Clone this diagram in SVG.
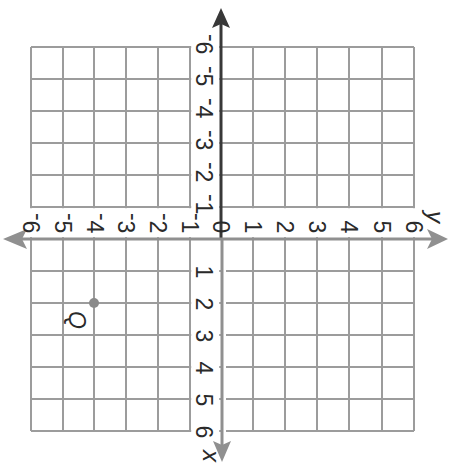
<svg xmlns="http://www.w3.org/2000/svg" width="453" height="464" viewBox="0 0 453 464">
<style>
.grid line{stroke:#9c9c9c;stroke-width:2}
.band{fill:#fff}
.lbl{font-family:"Liberation Sans",Arial,sans-serif;font-size:23px;fill:#2a2a2a}
.it{font-family:"Liberation Sans",Arial,sans-serif;font-size:24px;font-style:italic;fill:#2a2a2a}
</style>
<rect width="453" height="464" fill="#fff"/>
<g id="grid" class="grid">
<line x1="31" y1="47" x2="31" y2="431"/><line x1="63" y1="47" x2="63" y2="431"/><line x1="94" y1="47" x2="94" y2="431"/><line x1="126" y1="47" x2="126" y2="431"/><line x1="158" y1="47" x2="158" y2="431"/><line x1="190" y1="47" x2="190" y2="431"/><line x1="253" y1="47" x2="253" y2="431"/><line x1="285" y1="47" x2="285" y2="431"/><line x1="317" y1="47" x2="317" y2="431"/><line x1="349" y1="47" x2="349" y2="431"/><line x1="382" y1="47" x2="382" y2="431"/><line x1="414" y1="47" x2="414" y2="431"/>
<line x1="31" y1="47" x2="414" y2="47"/><line x1="31" y1="79" x2="414" y2="79"/><line x1="31" y1="111" x2="414" y2="111"/><line x1="31" y1="143" x2="414" y2="143"/><line x1="31" y1="175" x2="414" y2="175"/><line x1="31" y1="207" x2="414" y2="207"/><line x1="31" y1="271" x2="414" y2="271"/><line x1="31" y1="303" x2="414" y2="303"/><line x1="31" y1="335" x2="414" y2="335"/><line x1="31" y1="367" x2="414" y2="367"/><line x1="31" y1="399" x2="414" y2="399"/><line x1="31" y1="431" x2="414" y2="431"/>
</g>
<g id="bands">
<rect class="band" x="191.2" y="45" width="28" height="388"/>
<rect class="band" x="221" y="240" width="5" height="193"/>
<rect class="band" x="28" y="208.2" width="390" height="29"/>
</g>
<g id="connectors">
<line x1="221" y1="24" x2="221" y2="239" stroke="#383838" stroke-width="3"/>
<polygon points="221,8 212,28 221,24 230,28" fill="#383838"/>
<line x1="222" y1="239" x2="222" y2="446" stroke="#909090" stroke-width="3"/>
<polygon points="222,462 213,441 222,445 231,441" fill="#909090"/>
<line x1="20" y1="239" x2="432" y2="239" stroke="#909090" stroke-width="3"/>
<polygon points="3,239 27,229 22,239 27,249" fill="#909090"/>
<polygon points="448,239 427,229 432,239 427,249" fill="#909090"/>
</g>
<g id="x-labels" class="lbl" text-anchor="end">
<text transform="translate(196,48) rotate(90)" x="6.4"><tspan dy="-8">-</tspan><tspan dy="8">6</tspan></text>
<text transform="translate(196,80) rotate(90)" x="6.4"><tspan dy="-8">-</tspan><tspan dy="8">5</tspan></text>
<text transform="translate(196,112) rotate(90)" x="6.4"><tspan dy="-8">-</tspan><tspan dy="8">4</tspan></text>
<text transform="translate(196,144) rotate(90)" x="6.4"><tspan dy="-8">-</tspan><tspan dy="8">3</tspan></text>
<text transform="translate(196,176) rotate(90)" x="6.4"><tspan dy="-8">-</tspan><tspan dy="8">2</tspan></text>
<text transform="translate(196,208) rotate(90)" x="6.4"><tspan dy="-8">-</tspan><tspan dy="8">1</tspan></text>
<text transform="translate(196,272) rotate(90)" x="6.4">1</text>
<text transform="translate(196,304) rotate(90)" x="6.4">2</text>
<text transform="translate(196,336) rotate(90)" x="6.4">3</text>
<text transform="translate(196,368) rotate(90)" x="6.4">4</text>
<text transform="translate(196,400) rotate(90)" x="6.4">5</text>
<text transform="translate(196,432) rotate(90)" x="6.4">6</text>
</g>
<g id="y-labels" class="lbl" text-anchor="end">
<text transform="translate(23,227) rotate(90)" x="6.4"><tspan dy="-8">-</tspan><tspan dy="8">6</tspan></text>
<text transform="translate(55,227) rotate(90)" x="6.4"><tspan dy="-8">-</tspan><tspan dy="8">5</tspan></text>
<text transform="translate(87,227) rotate(90)" x="6.4"><tspan dy="-8">-</tspan><tspan dy="8">4</tspan></text>
<text transform="translate(118,227) rotate(90)" x="6.4"><tspan dy="-8">-</tspan><tspan dy="8">3</tspan></text>
<text transform="translate(150,227) rotate(90)" x="6.4"><tspan dy="-8">-</tspan><tspan dy="8">2</tspan></text>
<text transform="translate(182,227) rotate(90)" x="6.4"><tspan dy="-8">-</tspan><tspan dy="8">1</tspan></text>
<text transform="translate(213,227) rotate(90)" x="6.4">0</text>
<text transform="translate(245,227) rotate(90)" x="6.4">1</text>
<text transform="translate(277,227) rotate(90)" x="6.4">2</text>
<text transform="translate(309,227) rotate(90)" x="6.4">3</text>
<text transform="translate(341,227) rotate(90)" x="6.4">4</text>
<text transform="translate(374,227) rotate(90)" x="6.4">5</text>
<text transform="translate(406,227) rotate(90)" x="6.4">6</text>
</g>
<g id="axis-names" class="it">
<text transform="translate(203,450) rotate(90)">x</text>
<text transform="translate(427,211) rotate(90)">y</text>
</g>
<g id="point-Q">
<circle cx="94" cy="303" r="5" fill="#8a8a8a"/>
<text class="lbl" font-style="italic" transform="translate(69,311) rotate(90)">Q</text>
</g>
</svg>
